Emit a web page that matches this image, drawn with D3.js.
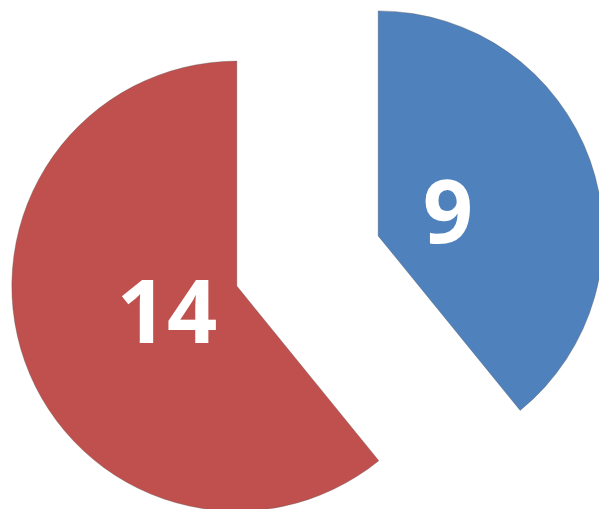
<!DOCTYPE html>
<html>
<head>
<meta charset="utf-8">
<script src="https://cdn.jsdelivr.net/npm/d3@7"></script>
<style>
  body { margin: 0; background: #fff; }
</style>
</head>
<body>
<svg id="chart"></svg>
<script>
var categories = ["A", "B"];
var values = [9, 14];
var colors = ["#4F81BD", "#C0504D"];

var width = 599, height = 509;
var cx = 307.5, cy = 261, radius = 225, explode = 75;

var svg = d3.select('#chart')
  .attr('width', width)
  .attr('height', height);

var data = categories.map(function(c, i){ return {name: c, value: values[i], color: colors[i]} });

var pie = d3.pie().sort(null).value(function(d){ return d.value });
var arc = d3.arc().innerRadius(0).outerRadius(radius);

var slices = svg.append('g')
  .attr('transform', 'translate(' + cx + ',' + cy + ')')
  .selectAll('g')
  .data(pie(data))
  .enter()
  .append('g')
  .attr('transform', function(d){
    var mid = (d.startAngle + d.endAngle) / 2;
    return 'translate(' + (Math.sin(mid) * explode) + ',' + (-Math.cos(mid) * explode) + ')';
  });

slices.append('path')
  .attr('d', arc)
  .style('fill', function(d){ return d.data.color })
  .style('stroke', 'rgba(90,90,90,0.35)')
  .style('stroke-width', 1);

// labels sit close to the slice tip
slices.append('text')
  .attr('x', function(d){ var mid = (d.startAngle + d.endAngle) / 2; return Math.sin(mid) * 74 })
  .attr('y', function(d){ var mid = (d.startAngle + d.endAngle) / 2; return -Math.cos(mid) * 74 })
  .attr('dy', '0.36em')
  .attr('text-anchor', 'middle')
  .style('font-family', '"Open Sans", sans-serif')
  .style('font-weight', 700)
  .style('font-size', '88px')
  .style('fill', '#fff')
  .text(function(d){ return d.data.value });
</script>
</body>
</html>
